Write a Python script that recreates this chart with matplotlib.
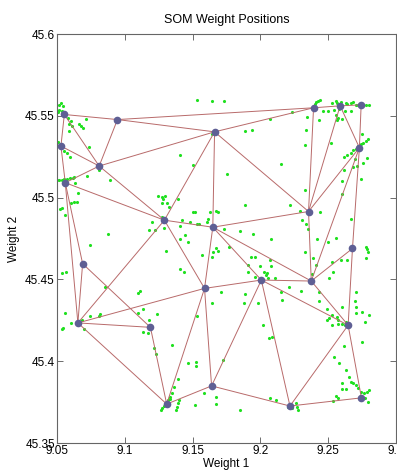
import numpy as np
import matplotlib.pyplot as plt

plt.rcParams['font.family'] = ['Liberation Sans', 'DejaVu Sans']

# SOM weights on a 5x5 hex grid, stored row by row
weight1 = [[9.2743, 9.2588, 9.2392, 9.0946, 9.0554],
           [9.2730, 9.2355, 9.1662, 9.0811, 9.0529],
           [9.2679, 9.2375, 9.1649, 9.1292, 9.0561],
           [9.2647, 9.2007, 9.1588, 9.0654, 9.0689],
           [9.2745, 9.2218, 9.1640, 9.1309, 9.1189]]
weight2 = [[45.5567, 45.5561, 45.5549, 45.5477, 45.5508],
           [45.5305, 45.4915, 45.5402, 45.5193, 45.5315],
           [45.4689, 45.4490, 45.4819, 45.4862, 45.5091],
           [45.4220, 45.4496, 45.4445, 45.4234, 45.4596],
           [45.3776, 45.3726, 45.3849, 45.3738, 45.4207]]

# input vectors (weight 1, weight 2), grouped by area of the map
inputs_nw = [
    (9.0529, 45.5579), (9.0515, 45.5567), (9.0544, 45.5561), (9.0515, 45.5537),
    (9.0537, 45.5530), (9.0507, 45.5524), (9.0581, 45.5488), (9.0603, 45.5470),
    (9.0588, 45.5451), (9.0610, 45.5439), (9.0662, 45.5451), (9.0676, 45.5439),
    (9.0691, 45.5427), (9.0713, 45.5482), (9.0588, 45.5409), (9.0507, 45.5341),
    (9.0574, 45.5274), (9.0596, 45.5250), (9.0551, 45.5287), (9.0735, 45.5311),
    (9.0809, 45.5171), (9.0721, 45.5134), (9.0890, 45.5110), (9.0502, 45.5110),
    (9.0515, 45.5110), (9.0537, 45.5110), (9.0551, 45.5116), (9.0574, 45.5116),
    (9.0596, 45.5122), (9.0618, 45.5122), (9.0625, 45.5128), (9.0632, 45.5091),
    (9.0654, 45.5030), (9.0603, 45.4970), (9.0625, 45.4976), (9.0647, 45.4976),
    (9.0522, 45.4933), (9.0537, 45.4939), (9.0559, 45.4896),
]
inputs_center = [
    (9.1529, 45.5598), (9.1640, 45.5591), (9.1728, 45.5591), (9.1404, 45.5262),
    (9.1500, 45.5201), (9.1243, 45.5012), (9.1272, 45.5006), (9.1279, 45.4994),
    (9.1294, 45.5012), (9.1272, 45.4970), (9.1309, 45.4970), (9.1324, 45.4945),
    (9.1390, 45.4994), (9.1272, 45.4884), (9.1500, 45.4915), (9.1515, 45.4909),
    (9.1625, 45.4909), (9.1669, 45.4921), (9.1691, 45.4909), (9.1419, 45.4866),
    (9.1478, 45.4848), (9.1529, 45.4841), (9.1544, 45.4841), (9.1603, 45.4848),
    (9.1610, 45.4872), (9.1199, 45.4848), (9.1176, 45.4799), (9.1221, 45.4799),
    (9.1287, 45.4817), (9.1404, 45.4829), (9.0875, 45.4780), (9.1404, 45.4750),
    (9.1441, 45.4774), (9.1463, 45.4726), (9.0743, 45.4713),
]
inputs_ne = [
    (9.2235, 45.5524), (9.2074, 45.5482), (9.1890, 45.5409), (9.1941, 45.5415),
    (9.1640, 45.5390), (9.2346, 45.5494), (9.2434, 45.5476), (9.2338, 45.5415),
    (9.2463, 45.5530), (9.2500, 45.5530), (9.2544, 45.5537), (9.2581, 45.5543),
    (9.2625, 45.5530), (9.2669, 45.5530), (9.2404, 45.5573), (9.2412, 45.5585),
    (9.2426, 45.5591), (9.2441, 45.5598), (9.2529, 45.5579), (9.2559, 45.5591),
    (9.2566, 45.5579), (9.2596, 45.5585), (9.2632, 45.5579), (9.2640, 45.5573),
    (9.2669, 45.5579), (9.2684, 45.5585), (9.2706, 45.5567), (9.2721, 45.5567),
    (9.2750, 45.5567), (9.2779, 45.5567), (9.2801, 45.5567), (9.2559, 45.5506),
    (9.2574, 45.5488), (9.2566, 45.5476), (9.2603, 45.5482), (9.2750, 45.5390),
    (9.2522, 45.5335), (9.2331, 45.5323), (9.2669, 45.5274), (9.2684, 45.5293),
    (9.2706, 45.5299), (9.2721, 45.5317), (9.2743, 45.5329), (9.2757, 45.5335),
    (9.2779, 45.5348), (9.2794, 45.5360), (9.2618, 45.5250), (9.2640, 45.5262),
    (9.2699, 45.5238), (9.2757, 45.5213), (9.2787, 45.5244), (9.2713, 45.5195),
    (9.2684, 45.5189), (9.2618, 45.5171), (9.2743, 45.5116), (9.2154, 45.5207),
    (9.1757, 45.5146), (9.2603, 45.5104), (9.2331, 45.5049), (9.2603, 45.5024),
    (9.1890, 45.4957), (9.2221, 45.4957), (9.2294, 45.4921), (9.2441, 45.4909),
    (9.2669, 45.4872), (9.2309, 45.4866), (9.2338, 45.4841), (9.2353, 45.4811),
    (9.1735, 45.4811), (9.1853, 45.4793), (9.1949, 45.4780), (9.2081, 45.4744),
    (9.2419, 45.4744), (9.2500, 45.4726), (9.2559, 45.4756),
]
inputs_sw = [
    (9.0537, 45.4537), (9.0566, 45.4543), (9.0853, 45.4451), (9.1096, 45.4415),
    (9.1110, 45.4427), (9.0559, 45.4293), (9.0537, 45.4195), (9.0544, 45.4201),
    (9.0603, 45.4232), (9.0684, 45.4250), (9.0699, 45.4195), (9.0743, 45.4274),
    (9.0809, 45.4274), (9.0816, 45.4287), (9.1096, 45.4293), (9.1132, 45.4317),
    (9.1235, 45.4287), (9.1176, 45.4250), (9.1132, 45.4177), (9.1169, 45.4171),
    (9.1213, 45.4079), (9.1228, 45.4043), (9.1346, 45.4098), (9.1301, 45.4671),
    (9.1404, 45.4561), (9.1434, 45.4543), (9.1566, 45.4652), (9.1647, 45.4665),
    (9.1676, 45.4689), (9.1684, 45.4671), (9.1640, 45.4634), (9.1640, 45.4354),
    (9.1529, 45.4274), (9.1713, 45.4421), (9.1463, 45.3988), (9.1522, 45.3994),
    (9.1522, 45.3970), (9.1390, 45.3890), (9.1360, 45.3841), (9.1346, 45.3805),
    (9.1331, 45.3780), (9.1316, 45.3762), (9.1265, 45.3701), (9.1272, 45.3713),
    (9.1287, 45.3726), (9.1301, 45.3738), (9.1331, 45.3768), (9.1397, 45.3762),
    (9.1390, 45.3744), (9.1382, 45.3720), (9.1375, 45.3701), (9.1515, 45.3732),
    (9.1581, 45.3805), (9.1669, 45.3780), (9.1676, 45.3738), (9.1721, 45.4006),
]
inputs_se = [
    (9.1765, 45.4701), (9.1934, 45.4634), (9.1963, 45.4634), (9.1912, 45.4585),
    (9.2000, 45.4579), (9.2074, 45.4616), (9.2081, 45.4579), (9.1912, 45.4543),
    (9.1963, 45.4512), (9.2029, 45.4543), (9.2044, 45.4524), (9.2051, 45.4537),
    (9.2059, 45.4506), (9.2110, 45.4506), (9.1890, 45.4409), (9.1985, 45.4354),
    (9.1882, 45.4354), (9.2154, 45.4421), (9.2162, 45.4372), (9.2213, 45.4451),
    (9.2301, 45.4427), (9.2022, 45.4220), (9.2066, 45.4140), (9.2088, 45.4146),
    (9.2331, 45.4665), (9.2390, 45.4628), (9.2382, 45.4530), (9.2412, 45.4585),
    (9.2434, 45.4421), (9.2434, 45.4366), (9.2493, 45.4317), (9.2507, 45.4262),
    (9.2493, 45.4250), (9.2529, 45.4280), (9.2566, 45.4268), (9.2603, 45.4329),
    (9.2574, 45.4250), (9.2574, 45.4226), (9.2529, 45.4220), (9.2625, 45.4220),
    (9.2632, 45.4238), (9.2603, 45.4226), (9.2544, 45.4024), (9.2581, 45.3988),
    (9.2618, 45.4091), (9.2529, 45.4604), (9.2537, 45.4543), (9.2507, 45.4506),
    (9.2596, 45.4616), (9.2640, 45.4616), (9.2706, 45.4421), (9.2699, 45.4366),
    (9.2706, 45.4329), (9.2706, 45.4293), (9.2750, 45.4299), (9.2772, 45.4238),
    (9.2801, 45.4280), (9.2750, 45.4116), (9.2779, 45.4695), (9.2787, 45.4683),
    (9.2794, 45.4665), (9.2779, 45.4628), (9.2632, 45.3945), (9.2654, 45.3902),
    (9.2669, 45.3872), (9.2684, 45.3866), (9.2706, 45.3854), (9.2721, 45.3835),
    (9.2743, 45.3811), (9.2765, 45.3805), (9.2787, 45.3811), (9.2801, 45.3823),
    (9.2772, 45.3774), (9.2794, 45.3750), (9.2632, 45.3829), (9.2603, 45.3829),
    (9.2603, 45.3866), (9.2574, 45.3774), (9.2559, 45.3787), (9.2537, 45.3756),
    (9.1853, 45.3701), (9.2074, 45.3774), (9.2118, 45.3762), (9.2206, 45.3720),
    (9.2235, 45.3713), (9.2265, 45.3744), (9.2272, 45.3720), (9.2279, 45.3701),
]

xticks = [9.05, 9.1, 9.15, 9.2, 9.25, 9.3]
xtick_labels = ['9.05', '9.1', '9.15', '9.2', '9.25', '9.3']
yticks = [45.35, 45.4, 45.45, 45.5, 45.55, 45.6]
ytick_labels = ['45.35', '45.4', '45.45', '45.5', '45.55', '45.6']

w1 = np.array(weight1).ravel()
w2 = np.array(weight2).ravel()
inputs = np.array(inputs_nw + inputs_center + inputs_ne + inputs_sw + inputs_se)

# hex grid positions -> neighbour links (distance 1)
nrows, ncols = np.array(weight1).shape
rows, cols = np.divmod(np.arange(nrows * ncols), ncols)
pos = np.column_stack([cols + 0.5 * (rows % 2), rows * np.sqrt(3) / 2])
dist = np.linalg.norm(pos[:, None, :] - pos[None, :, :], axis=2)

fig = plt.figure(figsize=(3.97, 4.73), dpi=100)
ax = fig.add_axes([57 / 397, 30 / 473, 339 / 397, 409 / 473])

ax.plot(inputs[:, 0], inputs[:, 1], '.', color='#1fe01f', markersize=4.5,
        markeredgewidth=0, zorder=1)

for i in range(len(w1)):
    for j in range(i + 1, len(w1)):
        if dist[i, j] < 1.01:
            ax.plot([w1[i], w1[j]], [w2[i], w2[j]], color='#b86a6a',
                    linewidth=0.7, zorder=2)

ax.plot(w1, w2, 'o', color='#5f5f94', markersize=5.5, markeredgewidth=0,
        zorder=3)

ax.set_xlim(9.05, 9.3)
ax.set_ylim(45.35, 45.6)
ax.set_xticks(xticks)
ax.set_xticklabels(xtick_labels)
ax.set_yticks(yticks)
ax.set_yticklabels(ytick_labels)
ax.tick_params(direction='in', length=4, width=0.6, top=True, right=True,
               labelsize=8.5, pad=1.5, color='#555555')
for s in ax.spines.values():
    s.set_color('#666666')
    s.set_linewidth(0.8)

ax.set_title('SOM Weight Positions', fontsize=9, pad=8)
ax.set_xlabel('Weight 1', fontsize=8.5, labelpad=1)
ax.set_ylabel('Weight 2', fontsize=8.5, labelpad=4)

fig.savefig('out.png', dpi=100)
